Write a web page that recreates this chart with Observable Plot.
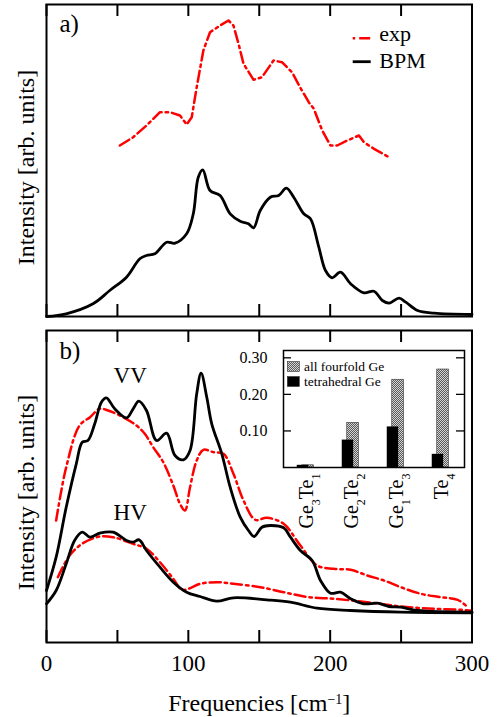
<!DOCTYPE html>
<html>
<head>
<meta charset="utf-8">
<script src="https://cdn.jsdelivr.net/npm/d3@7"></script>
<script src="https://cdn.jsdelivr.net/npm/@observablehq/plot@0.6"></script>
<style>
  html, body { margin: 0; padding: 0; background: #fff; }
  #wrap { position: relative; width: 500px; height: 717px; font-family: "Liberation Serif", "Times New Roman", serif; overflow: hidden; }
  #wrap > * { position: absolute; }
  #wrap svg text, #wrap svg tspan { font-family: "Liberation Serif", "Times New Roman", serif; }
</style>
</head>
<body>
<svg width="0" height="0" style="position:absolute">
  <defs>
    <pattern id="stipple" width="2" height="2" patternUnits="userSpaceOnUse">
      <rect width="2" height="2" fill="#d4d4d4"></rect>
      <rect width="1" height="1" fill="#5a5a5a"></rect>
      <rect x="1" y="1" width="1" height="1" fill="#5a5a5a"></rect>
    </pattern>
  </defs>
</svg>
<div id="wrap"></div>
<script>
// ---------------- data ----------------
// x ticks / labels
const xTicks = [0, 50, 100, 150, 200, 250, 300];
const xTickLabels = [0, 100, 200, 300];

// panel a) : [frequency (cm^-1), intensity (arb. units)]
const bpmA = [[0,0],[13.9,0.027],[32.8,0.127],[44.6,0.26],[56.4,0.393],[65.8,0.577],[70.5,0.61],[76.4,0.627],[84.7,0.743],[90.6,0.733],[98.8,0.827],[103.5,1.027],[107,1.393],[110.2,1.467],[115.3,1.26],[122.4,1.21],[129.5,1.027],[136.6,0.953],[142.4,0.927],[146,0.887],[150.7,1.06],[157.8,1.193],[163.7,1.21],[169.1,1.283],[174.3,1.193],[181.4,1.027],[186.1,0.977],[191.9,0.699],[196.7,0.46],[201.4,0.387],[207.3,0.443],[214.4,0.327],[223.8,0.237],[230.9,0.253],[236.8,0.16],[241.5,0.133],[248.6,0.183],[253.3,0.143],[261.6,0.06],[273.3,0.033],[300,0.02]];
const expA = [[51.7,1.71],[61.1,1.793],[70.5,1.91],[80,2.043],[87,2.043],[94.1,2.01],[98.8,1.92],[102.4,1.993],[105.9,2.293],[110.6,2.66],[115.3,2.843],[122.4,2.91],[128.3,2.96],[131.8,2.91],[135.4,2.727],[138.9,2.527],[146,2.367],[151.9,2.393],[160.1,2.56],[166,2.543],[173.1,2.443],[179,2.287],[184.9,2.143],[188.5,2.077],[194.4,1.86],[200.2,1.71],[205,1.71],[212.1,1.76],[220.3,1.81],[223.8,1.743],[230.9,1.677],[241.5,1.593]];

// panel b)
const vvBpm = [[0,0.52],[6.8,0.853],[13.9,1.353],[21,1.787],[25.2,2.003],[29.2,2.02],[34,2.187],[38.7,2.403],[42.2,2.447],[48.1,2.337],[56.4,2.247],[61.1,2.337],[65.1,2.413],[70.5,2.32],[77.6,2.02],[84.7,2.093],[90.6,1.87],[96.5,1.827],[101.2,1.92],[105.9,2.487],[109,2.693],[113,2.453],[116.5,2.187],[123.6,1.887],[129.5,1.553],[136.6,1.253],[142.4,1.12],[146.4,1.06],[151.9,1.153],[157.8,1.17],[167.2,1.147],[172,1.053],[179,0.92],[187.3,0.82],[193.2,0.62],[200.2,0.493],[207.3,0.503],[214.4,0.437],[223.8,0.387],[233.3,0.393],[241.5,0.36],[249.8,0.353],[261.6,0.32],[300,0.303]];
const vvExp = [[6.8,1.22],[13.9,1.753],[23.3,2.17],[30.7,2.253],[37.5,2.337],[43.4,2.32],[54,2.253],[63.4,2.17],[69.3,2.087],[75.2,1.953],[82.3,1.803],[89.4,1.57],[94.1,1.387],[97.6,1.32],[101.2,1.553],[105.9,1.82],[110.6,1.927],[117.7,1.903],[124.8,1.887],[131.8,1.687],[138.9,1.42],[147.2,1.227],[155.4,1.247],[167.2,1.187],[179,0.97],[190.8,0.77],[202.6,0.737],[214.4,0.727],[226.2,0.67],[237.9,0.62],[249.8,0.553],[263.9,0.487],[278,0.453],[289.9,0.427],[297,0.353]];
const hvBpm = [[0,0.387],[6.8,0.52],[13.9,0.787],[19.8,1.02],[25.2,1.103],[30.7,1.053],[37.5,1.093],[46.9,1.103],[56.4,1.02],[61.1,1.003],[65.3,1.027],[70.5,0.92],[80,0.753],[89.4,0.603],[98.8,0.503],[108.3,0.46],[120.1,0.413],[131.8,0.447],[155.4,0.427],[172,0.403],[190.8,0.343],[214.4,0.32],[249.8,0.303],[300,0.297]];
const hvExp = [[8,0.653],[16.3,0.87],[25.7,0.993],[37.5,1.06],[46.9,1.053],[61.1,0.987],[70.5,0.937],[80,0.803],[89.4,0.637],[95.3,0.527],[100,0.537],[108.3,0.587],[120.1,0.603],[131.8,0.587],[150.7,0.553],[167.2,0.503],[185,0.453],[202.6,0.437],[226.2,0.403],[249.8,0.36],[273.3,0.337],[291.9,0.327],[298.8,0.32]];

// curve labels in panel b (data units)
const curveLabels = [{label: "VV", x: 59, y: 2.6}, {label: "HV", x: 59, y: 1.23}];

// inset bar chart
const categories = ["Ge3Te1", "Ge2Te2", "Ge1Te3", "Te4"];
const allFourfold = [0.006, 0.122, 0.240, 0.268];
const tetrahedral = [0.006, 0.075, 0.111, 0.036];
const insetYTicks = [0.10, 0.20, 0.30];

// ---------------- drawing ----------------
const wrap = document.getElementById("wrap");
const serif = '"Liberation Serif", "Times New Roman", serif';
const svgStyle = `font-family: ${serif}; background: transparent; color: black; overflow: visible;`;
const mL = 46, mR = 28.5;
const red = "#ff0000";
const dash = "11,4,2.5,4";

function panelTicks(innerH) {
  return [
    Plot.ruleX(xTicks, {x: d => d, insetBottom: innerH - 12, strokeWidth: 2}),
    Plot.ruleX(xTicks, {x: d => d, insetTop: innerH - 12, strokeWidth: 2})
  ];
}
function yLabel(dy) {
  return Plot.text(["Intensity [arb. units]"], {frameAnchor: "left", rotate: -90, textAnchor: "middle", lineAnchor: "bottom", dx: -13, dy, fontSize: 24});
}

// panel a)
const hA = 322, mTA = 4, mBA = 6;
const plotA = Plot.plot({
  width: 500, height: hA, marginLeft: mL, marginRight: mR, marginTop: mTA, marginBottom: mBA,
  style: svgStyle,
  x: {domain: [0, 300], axis: null},
  y: {domain: [0, 3.12], axis: null},
  marks: [
    Plot.line(expA, {x: d => d[0], y: d => d[1], stroke: red, strokeWidth: 2.5, strokeDasharray: dash}),
    Plot.line(bpmA, {x: d => d[0], y: d => d[1], stroke: "black", strokeWidth: 2.8, curve: "catmull-rom"}),
    ...panelTicks(hA - mTA - mBA),
    Plot.frame({strokeWidth: 2}),
    Plot.text(["a)"], {frameAnchor: "top-left", textAnchor: "start", lineAnchor: "bottom", dx: 13, dy: 27, fontSize: 25}),
    yLabel(7)
  ]
});
plotA.style.left = "0px"; plotA.style.top = "0px";
wrap.appendChild(plotA);

// panel b)
const hB = 395, mTB = 8, mBB = 75;
const plotB = Plot.plot({
  width: 500, height: hB, marginLeft: mL, marginRight: mR, marginTop: mTB, marginBottom: mBB,
  style: svgStyle,
  x: {domain: [0, 300], axis: null},
  y: {domain: [0, 3.12], axis: null},
  marks: [
    Plot.line(vvExp, {x: d => d[0], y: d => d[1], stroke: red, strokeWidth: 2.5, strokeDasharray: dash, curve: "catmull-rom"}),
    Plot.line(hvExp, {x: d => d[0], y: d => d[1], stroke: red, strokeWidth: 2.5, strokeDasharray: dash, curve: "catmull-rom"}),
    Plot.line(vvBpm, {x: d => d[0], y: d => d[1], stroke: "black", strokeWidth: 2.8, curve: "catmull-rom"}),
    Plot.line(hvBpm, {x: d => d[0], y: d => d[1], stroke: "black", strokeWidth: 2.8, curve: "catmull-rom"}),
    ...panelTicks(hB - mTB - mBB),
    Plot.frame({strokeWidth: 2}),
    Plot.text(["b)"], {frameAnchor: "top-left", textAnchor: "start", lineAnchor: "bottom", dx: 13, dy: 28, fontSize: 25}),
    Plot.text(curveLabels, {x: "x", y: "y", text: "label", textAnchor: "middle", lineAnchor: "bottom", fontSize: 23}),
    Plot.axisX({ticks: xTickLabels, tickSize: 0, tickPadding: 12, fontSize: 23, label: null}),
    Plot.text(["Frequencies [cm"], {frameAnchor: "bottom", textAnchor: "middle", lineAnchor: "bottom", dy: 68, fontSize: 24}),
    yLabel(6)
  ]
});
plotB.style.left = "0px"; plotB.style.top = "322px";
wrap.appendChild(plotB);
// superscript on x label
d3.select(plotB).selectAll("text").filter(function () { return this.textContent === "Frequencies [cm"; }).each(function () {
  const s = d3.select(this);
  s.text(null);
  s.append("tspan").text("Frequencies [cm");
  s.append("tspan").attr("baseline-shift", "super").attr("font-size", "14px").text("\u22121");
  s.append("tspan").text("]");
});

// inset
const insetRows = categories.map((c, i) => ({cat: c, all: allFourfold[i], tet: tetrahedral[i]}));
const inset = Plot.plot({
  width: 240, height: 195, marginLeft: 53, marginRight: 6, marginTop: 5, marginBottom: 73,
  style: svgStyle,
  x: {type: "band", domain: categories, paddingInner: 0.34, paddingOuter: 0.17, axis: null},
  y: {domain: [0, 0.32], axis: null},
  marks: [
    Plot.barY(insetRows, {x: "cat", y: "all", fill: "url(#stipple)", stroke: "#333", strokeWidth: 0.6, insetLeft: 10.75, insetRight: 7.55}),
    Plot.barY(insetRows, {x: "cat", y: "tet", fill: "black", insetLeft: 5.75, insetRight: 12.85}),
    Plot.ruleY(insetYTicks, {y: d => d, insetRight: 181 - 8, strokeWidth: 1.3}),
    Plot.ruleY(insetYTicks, {y: d => d, insetLeft: 181 - 8, strokeWidth: 1.3}),
    Plot.frame({strokeWidth: 1.5}),
    Plot.axisY({ticks: insetYTicks, tickSize: 0, tickPadding: 16, tickFormat: d3.format(".2f"), fontSize: 16, label: null}),
    Plot.axisX({tickRotate: -90, tickSize: 0, tickPadding: 6, fontSize: 20, label: null})
  ]
});
inset.style.left = "230px"; inset.style.top = "345px";
wrap.appendChild(inset);
d3.select(inset).selectAll('g[aria-label="x-axis tick label"] text').each(function () {
  const str = this.textContent;
  const s = d3.select(this);
  s.text(null);
  for (const m of str.matchAll(/([A-Za-z]+)(\d*)/g)) {
    if (!m[0]) continue;
    s.append("tspan").text(m[1]);
    if (m[2]) s.append("tspan").attr("baseline-shift", "sub").attr("font-size", "12px").text(m[2]);
  }
});

// legends
function legendSvg(left, top, w, h, build) {
  const svg = d3.create("svg").attr("width", w).attr("height", h)
    .style("left", left + "px").style("top", top + "px").style("position", "absolute")
    .style("font-family", serif).style("overflow", "visible");
  build(svg);
  wrap.appendChild(svg.node());
}
const legendA = [
  {label: "exp", stroke: red, dash: dash, offset: 15},
  {label: "BPM", stroke: "black", dash: null, offset: 0}
];
legendSvg(340, 20, 130, 60, svg => {
  legendA.forEach((d, i) => {
    const ly = i === 0 ? 18.3 : 41.7;
    const ty = i === 0 ? 20.7 : 48.3;
    const ln = svg.append("line").attr("x1", 12.7).attr("x2", 30.7).attr("y1", ly).attr("y2", ly)
      .attr("stroke", d.stroke).attr("stroke-width", d.dash ? 2.5 : 2.8);
    if (d.dash) ln.attr("stroke-dasharray", d.dash).attr("stroke-dashoffset", d.offset);
    svg.append("text").attr("x", 39.3).attr("y", ty).attr("font-size", 22).text(d.label);
  });
});
const legendInset = [
  {label: "all fourfold Ge", fill: "url(#stipple)"},
  {label: "tetrahedral Ge", fill: "black"}
];
legendSvg(280, 355, 110, 40, svg => {
  legendInset.forEach((d, i) => {
    const ry = i === 0 ? 6.5 : 21.5;
    const ty = i === 0 ? 15.5 : 30.5;
    svg.append("rect").attr("x", 7.3).attr("y", ry).attr("width", 12).attr("height", 10)
      .attr("fill", d.fill).attr("stroke", "#333").attr("stroke-width", 0.6);
    svg.append("text").attr("x", 24).attr("y", ty).attr("font-size", 13.5).text(d.label);
  });
});
</script>
</body>
</html>
